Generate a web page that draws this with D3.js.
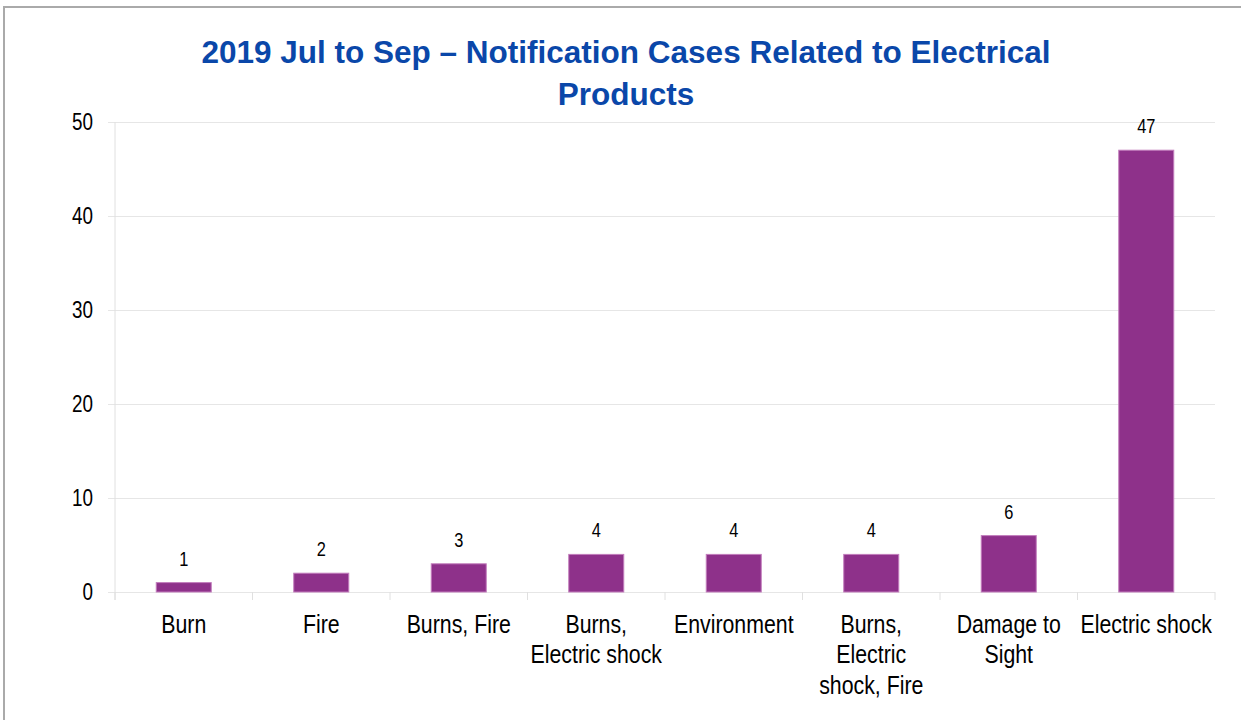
<!DOCTYPE html>
<html>
<head>
<meta charset="utf-8">
<script src="https://cdn.jsdelivr.net/npm/d3@7"></script>
<style>
  body { margin: 0; background: #fff; }
  svg text { font-family: "Liberation Sans", Arial, sans-serif; fill: #000; }
  .title { font-weight: bold; fill: #0A47A9 !important; }
</style>
</head>
<body>
<svg id="chart"></svg>
<script>
// chart data
var categories = ["Burn", "Fire", "Burns, Fire", "Burns, Electric shock", "Environment", "Burns, Electric shock, Fire", "Damage to Sight", "Electric shock"];
var categoryLines = [["Burn"], ["Fire"], ["Burns, Fire"], ["Burns,", "Electric shock"], ["Environment"], ["Burns,", "Electric", "shock, Fire"], ["Damage to", "Sight"], ["Electric shock"]];
var cases = [1, 2, 3, 4, 4, 4, 6, 47];
var yTicks = [0, 10, 20, 30, 40, 50];
var titleLines = ["2019 Jul to Sep \u2013 Notification Cases Related to Electrical", "Products"];

var W = 1241, H = 720;
var margin = { top: 122, right: 26, bottom: 128, left: 115 },
    width = W - margin.left - margin.right,
    height = H - margin.top - margin.bottom;

// labels in the original use a narrow face; squeeze regular sans to match
var narrow = 0.82;

var svg = d3.select("#chart").attr("width", W).attr("height", H);

// outer frame (runs off the page on right and bottom)
svg.append("rect")
    .attr("x", 4).attr("y", 7)
    .attr("width", W + 10).attr("height", H + 10)
    .attr("fill", "none")
    .attr("stroke", "#aaaaaa")
    .attr("stroke-width", 2);

// title
svg.selectAll(".title")
    .data(titleLines)
    .enter().append("text")
    .attr("class", "title")
    .attr("x", 626)
    .attr("y", function(d, i) { return 63 + i * 42; })
    .attr("text-anchor", "middle")
    .style("font-size", "31.5px")
    .text(function(d) { return d; });

var g = svg.append("g")
    .attr("transform", "translate(" + margin.left + "," + margin.top + ")");

var x = d3.scaleBand()
    .domain(categories)
    .range([0, width])
    .paddingInner(0.6)
    .paddingOuter(0.3);

var y = d3.scaleLinear()
    .domain([0, 50])
    .range([height, 0]);

// gridlines
var yAxis = g.append("g")
    .call(d3.axisLeft(y).tickValues(yTicks).tickSize(-width - 7).tickFormat(""))
    .attr("transform", "translate(-7,0)");
yAxis.select(".domain").remove();
yAxis.selectAll(".tick line").attr("stroke", "#e6e6e6").attr("x1", 0).attr("x2", width + 7);

// y labels
g.selectAll(".ylab")
    .data(yTicks)
    .enter().append("text")
    .attr("text-anchor", "end")
    .attr("dy", "0.35em")
    .style("font-size", "23px")
    .attr("transform", function(d) { return "translate(-22," + y(d) + ") scale(" + narrow + ",1)"; })
    .text(function(d) { return d; });

// vertical axis line
g.append("line")
    .attr("x1", 0).attr("x2", 0)
    .attr("y1", 0).attr("y2", height + 8)
    .attr("stroke", "#e0e0e0");

// category separators below baseline
var step = width / categories.length;
g.selectAll(".sep")
    .data(d3.range(categories.length + 1))
    .enter().append("line")
    .attr("x1", function(d) { return d * step; })
    .attr("x2", function(d) { return d * step; })
    .attr("y1", height)
    .attr("y2", height + 8)
    .attr("stroke", "#e0e0e0");

// bars
g.selectAll(".bar")
    .data(cases)
    .enter().append("rect")
    .attr("x", function(d, i) { return x(categories[i]); })
    .attr("y", function(d) { return y(d); })
    .attr("width", x.bandwidth())
    .attr("height", function(d) { return height - y(d); })
    .attr("fill", "#8E318A")
    .attr("stroke", "#C27DBC")
    .attr("stroke-width", 1);

// value labels
g.selectAll(".val")
    .data(cases)
    .enter().append("text")
    .attr("text-anchor", "middle")
    .style("font-size", "20px")
    .attr("transform", function(d, i) {
        return "translate(" + (x(categories[i]) + x.bandwidth() / 2) + "," + (y(d) - 17) + ") scale(" + narrow + ",1)";
    })
    .text(function(d) { return d; });

// category labels
var cat = g.selectAll(".cat")
    .data(categoryLines)
    .enter().append("text")
    .attr("text-anchor", "middle")
    .style("font-size", "26px")
    .attr("transform", function(d, i) {
        return "translate(" + (x(categories[i]) + x.bandwidth() / 2) + "," + (height + 41) + ") scale(" + narrow + ",1)";
    });
cat.selectAll("tspan")
    .data(function(d) { return d; })
    .enter().append("tspan")
    .attr("x", 0)
    .attr("y", function(d, i) { return i * 30.5; })
    .text(function(d) { return d; });
</script>
</body>
</html>
